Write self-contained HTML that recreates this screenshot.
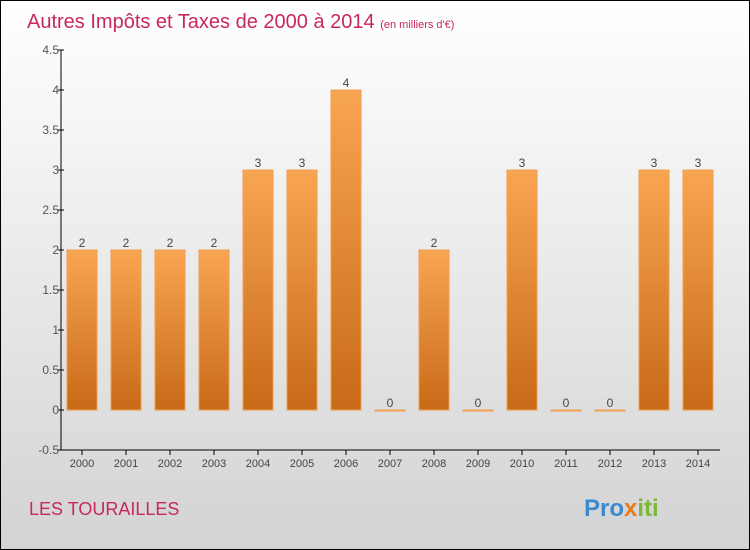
<!DOCTYPE html>
<html><head><meta charset="utf-8"><style>
body{margin:0}
#wrap{position:relative;width:748px;height:548px;border:1px solid #000;background:linear-gradient(#ffffff,#d3d3d3);font-family:"Liberation Sans",sans-serif;overflow:hidden}
</style></head><body>
<div id="wrap">
<svg id="chart" width="748" height="548">
<defs><linearGradient id="bg" x1="0" y1="0" x2="0" y2="1"><stop offset="0" stop-color="#f8a552"/><stop offset="1" stop-color="#c86a18"/></linearGradient></defs>
<text x="26" y="27" font-size="20" fill="#c8285a">Autres Impôts et Taxes de 2000 à 2014 <tspan font-size="11">(en milliers d'€)</tspan></text>
<text x="28" y="514" font-size="18" fill="#c8285a">LES TOURAILLES</text>
<text x="583" y="515" font-size="24" font-weight="bold" fill="#3a8ad0">Pro<tspan fill="#e87a1a">x</tspan><tspan fill="#7ab83a">iti</tspan></text>
<g id="g"></g>
</svg>
</div>
<script>
const categories=["2000","2001","2002","2003","2004","2005","2006","2007","2008","2009","2010","2011","2012","2013","2014"];
const values=[2,2,2,2,3,3,4,0,2,0,3,0,0,3,3];
const yTicks=[-0.5,0,0.5,1,1.5,2,2.5,3,3.5,4,4.5];
const yTickLabels=["-0.5","0","0.5","1","1.5","2","2.5","3","3.5","4","4.5"];
const NS="http://www.w3.org/2000/svg";
const g=document.getElementById('g');
const y=v=>409-v*80;
const x=i=>81+i*44;
function mk(t,a){const e=document.createElementNS(NS,t);for(const k in a)e.setAttribute(k,a[k]);g.appendChild(e);return e;}
let e=mk('line',{x1:60,y1:49,x2:60,y2:449,stroke:'#000'});


e=mk('line',{x1:60,y1:449,x2:719,y2:449,stroke:'#000'});


yTicks.forEach((v,i)=>{
 let t=mk('line',{x1:57,y1:y(v),x2:63,y2:y(v),stroke:'#000'});
 
 
 let l=mk('text',{x:58,y:y(v)+4,'font-size':12,'text-anchor':'end',fill:'#555'});
 l.textContent=yTickLabels[i];
 
 
});
categories.forEach((c,i)=>{
 let t=mk('line',{x1:x(i),y1:449,x2:x(i),y2:454,stroke:'#000'});
 
 
 let l=mk('text',{x:x(i),y:466,'font-size':11,'text-anchor':'middle',fill:'#444'});
 l.textContent=c;
 
 
 const v=values[i];
 const h=Math.max(1,y(0)-y(v));
 let b=mk('rect',{x:x(i)-15,y:y(v),width:30,height:h,fill:'url(#bg)',stroke:'#f0a050','stroke-width':1});
 
 
 let vl=mk('text',{x:x(i),y:y(v)-3,'font-size':12,'text-anchor':'middle',fill:'#444'});
 vl.textContent=String(v);
 
 
});
</script>
</body></html>
